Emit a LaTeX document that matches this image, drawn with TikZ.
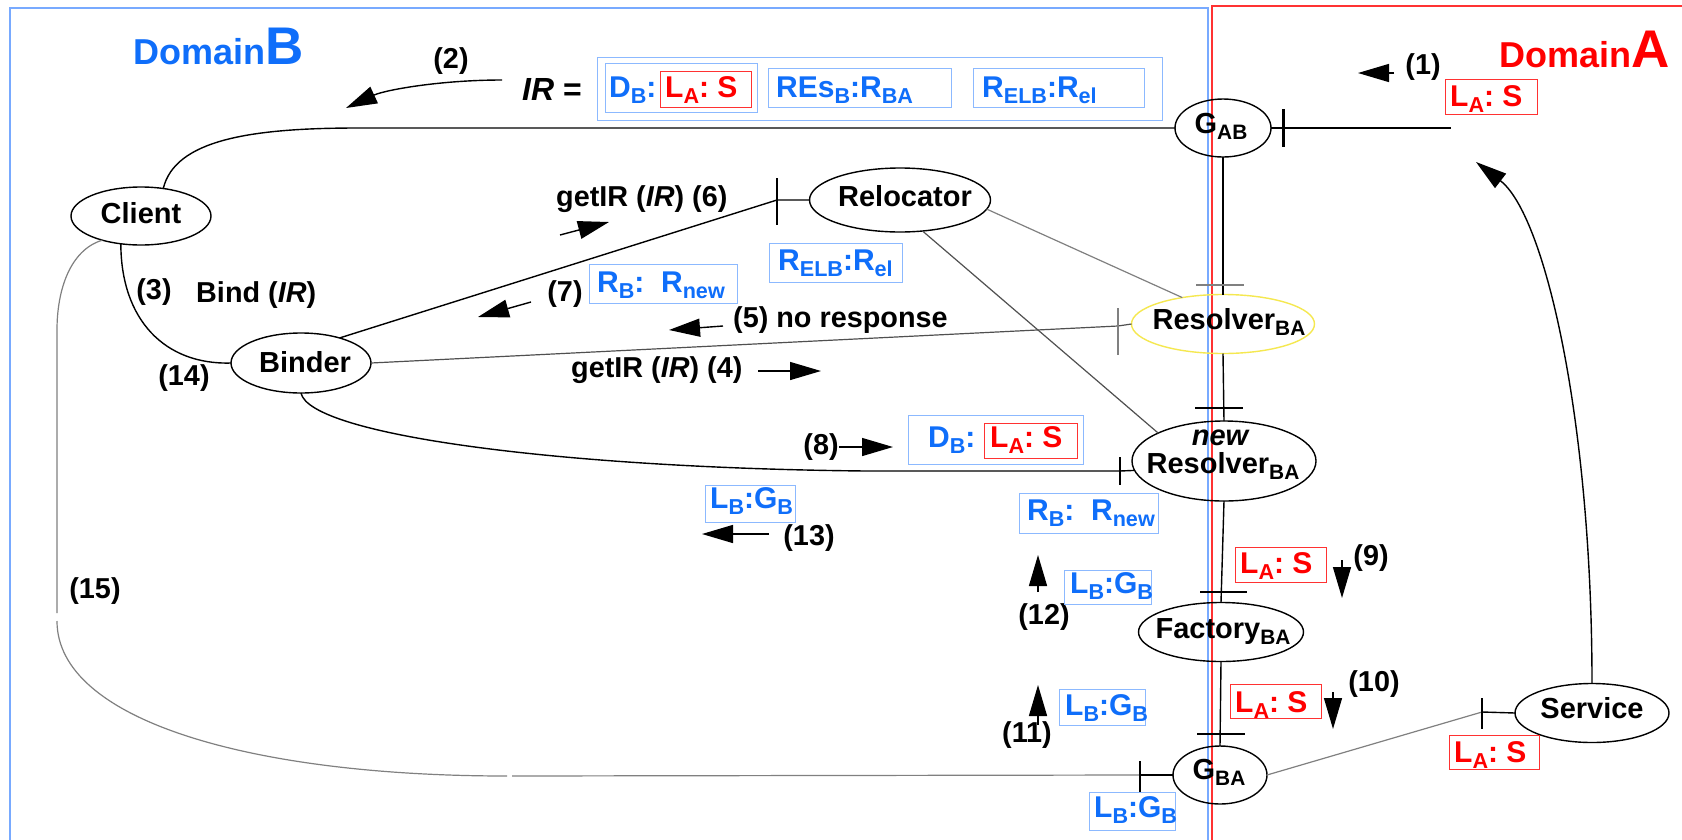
\documentclass[tikz,border=0pt]{standalone}
\usepackage{graphicx}
\usepackage{fontspec}
\setmainfont{Liberation Sans}
\usetikzlibrary{shapes.geometric,arrows.meta}

\definecolor{txtblue}{RGB}{15,110,250}
\definecolor{boxblue}{RGB}{140,185,255}
\definecolor{frameblue}{RGB}{120,170,255}
\definecolor{txtred}{RGB}{255,0,0}
\definecolor{boxred}{RGB}{255,50,50}
\definecolor{linegray}{RGB}{128,128,128}
\definecolor{darkline}{RGB}{80,80,80}
\definecolor{resyellow}{RGB}{245,232,80}

% lowered, shrunken index text
\newcommand\sbs[1]{\raisebox{-0.22em}{\scalebox{0.72}{#1}}}
\newcommand\nodefont{\fontsize{29}{34}\selectfont\bfseries}
\newcommand\boxfont{\fontsize{30}{34}\selectfont\bfseries}
\newcommand\lblfont{\fontsize{28.8}{32}\selectfont\bfseries}

\tikzset{
  nd/.style={ellipse, draw, line width=1.4pt, inner sep=0pt, outer sep=0pt},
  ntxt/.style={anchor=base, inner sep=0pt, font=\nodefont},
  lbl/.style={inner sep=0pt, font=\lblfont},
  bbox/.style={draw=boxblue, line width=1.4pt, inner sep=0pt, anchor=north west},
  rbox/.style={draw=boxred, line width=1.4pt, inner sep=0pt, anchor=north west},
  btxt/.style={anchor=base west, inner sep=0pt, font=\boxfont, text=txtblue},
  rtxt/.style={anchor=base west, inner sep=0pt, font=\boxfont, text=txtred},
  flow/.style={-{Triangle[length=31pt,width=18pt]}, line width=1.4pt},
  conn/.style={line width=1.4pt},
  gconn/.style={line width=1.2pt, draw=linegray},
  dconn/.style={line width=1.2pt, draw=darkline},
  tickmark/.style={line width=1.4pt},
  gtickmark/.style={line width=1.4pt, draw=linegray},
}

\begin{document}
\begin{tikzpicture}[x=1pt,y=-1pt]
\useasboundingbox (0,0) rectangle (1682,839);
\clip (0,0) rectangle (1682,839);
\fill[white] (0,0) rectangle (1682,839);

% the two domains
\draw[frameblue, line width=1.4pt] (10,8) rectangle (1208,900);
\draw[boxred, line width=1.4pt] (1212,6) rectangle (1700,900);
\node[anchor=base west, inner sep=0pt, text=txtblue, font=\bfseries] (domB) at (133,64)
  {\fontsize{36}{40}\selectfont Domain\fontsize{53}{56}\selectfont B};
\node[anchor=base west, inner sep=0pt, text=txtred, font=\bfseries] (domA) at (1499,67)
  {\fontsize{36}{40}\selectfont Domain\fontsize{53}{56}\selectfont A};

% objects
\node[nd, minimum width=140pt, minimum height=58pt] (Client) at (141,216) {};
\node[ntxt] (ClientT) at (141,223) {Client};
\node[nd, minimum width=140pt, minimum height=60pt] (Binder) at (301,363) {};
\node[ntxt] (BinderT) at (305,372) {Binder};
\node[nd, minimum width=181pt, minimum height=64pt] (Relocator) at (900,200) {};
\node[ntxt] (RelocatorT) at (905,206) {Relocator};
\node[nd, minimum width=96pt, minimum height=58pt] (GAB) at (1223,128) {};
\node[ntxt] (GABT) at (1221,133) {G\sbs{AB}};
\node[nd, draw=resyellow, minimum width=183pt, minimum height=59pt] (ResBA) at (1223,324) {};
\node[ntxt] (ResBAT) at (1229,329) {Resolver\sbs{BA}};
\node[nd, minimum width=184pt, minimum height=80pt] (newRes) at (1224,461) {};
\node[ntxt] (newResT1) at (1220,445) {\itshape new};
\node[ntxt] (newResT2) at (1223,473) {Resolver\sbs{BA}};
\node[nd, minimum width=165pt, minimum height=59pt] (Factory) at (1221,632) {};
\node[ntxt] (FactoryT) at (1223,638) {Factory\sbs{BA}};
\node[nd, minimum width=94pt, minimum height=58pt] (GBA) at (1220,775) {};
\node[ntxt] (GBAT) at (1219,779) {G\sbs{BA}};
\node[nd, minimum width=154pt, minimum height=59pt] (Service) at (1592,713) {};
\node[ntxt] (ServiceT) at (1592,718) {Service};

% free ends and tick positions
\coordinate (irEnd) at (358,128);
\coordinate (t1) at (1283,128);
\coordinate (c1) at (1451,128);
\coordinate (t6) at (777,200);
\coordinate (t5) at (1118,326);
\coordinate (c8) at (866,471);
\coordinate (t8) at (1120,471);
\coordinate (c15a) at (57,330);
\coordinate (c15b) at (57,613);
\coordinate (c15c) at (57,621);
\coordinate (c15d) at (507,776);
\coordinate (c15e) at (512,776);
\coordinate (t15) at (1140,775);
\coordinate (tS) at (1482,712);
\coordinate (cA) at (1476,162);

% connectors
\draw[conn] (Client.51) .. controls (175,140) and (250,128) .. (irEnd) -- (GAB.west);
\draw[conn] (GAB.east) -- (t1) -- (c1);
\draw[conn] (Client.234) .. controls (121,320) and (165,365) .. (Binder.west);
\draw[gconn] (Client.212) .. controls (70,250) and (57,290) .. (c15a) -- (c15b);
\draw[gconn] (c15c) .. controls (57,720) and (250,776) .. (c15d);
\draw[gconn] (c15e) -- (t15);
\draw[conn] (t15) -- (GBA.west);
\draw[conn] (Binder.33) -- (t6) -- (Relocator.west);
\draw[dconn] (Binder.east) -- (t5) -- (ResBA.west);
\draw[conn] (Binder.south) .. controls (310,435) and (560,468) .. (c8) -- (t8) -- (newRes.186);
\draw[gconn] (Relocator.354) -- (ResBA.147);
\draw[dconn] (Relocator.306) -- (newRes.157);
\draw[conn] (GAB.south) -- (ResBA.north);
\draw[conn] (ResBA.south) -- (newRes.north);
\draw[conn] (newRes.south) -- (Factory.north);
\draw[conn] (Factory.south) -- (GBA.north);
\draw[gconn] (GBA.east) -- (tS);
\draw[conn] (tS) -- (Service.west);
\draw[flow] (Service.north) .. controls (1592,420) and (1545,215) .. (cA);

% bars across the connectors
\draw[line width=3pt] (1283,109) -- (1283,147);
\draw[tickmark] (777,178) -- (777,225);
\draw[gtickmark] (1118,308) -- (1118,355);
\draw[tickmark] (1120,457) -- (1120,485);
\draw[tickmark] (1140,761) -- (1140,792);
\draw[tickmark] (1482,698) -- (1482,729);
\draw[gtickmark] (1196,285) -- (1244,285);
\draw[tickmark] (1195,408) -- (1243,408);
\draw[tickmark] (1200,592) -- (1247,592);
\draw[tickmark] (1197,734) -- (1245,734);

% message arrows
\draw[flow] (502,80) .. controls (440,80) and (385,90) .. (346,108);
\draw[flow] (1394,73) -- (1358,73);
\draw[flow] (560,235) -- (609,222);
\draw[flow] (531,302) -- (478,317);
\draw[flow] (723,326) -- (669,330);
\draw[flow] (758,371) -- (821,371);
\draw[flow] (839,447) -- (893,447);
\draw[flow] (769,534) -- (702,534);
\draw[flow] (1038,592) -- (1038,555);
\draw[flow] (1038,725) -- (1038,685);
\draw[flow] (1342,560) -- (1342,598);
\draw[flow] (1333,692) -- (1333,729);

% step labels
\node[lbl] (l2) at (451,61) {(2)};
\node[lbl] (l1) at (1423,67) {(1)};
\node[lbl, anchor=base west] (l6) at (556,206) {getIR (\textit{IR}) (6)};
\node[lbl] (l3) at (154,292) {(3)};
\node[lbl, anchor=base west] (lbind) at (196,302) {Bind (\textit{IR})};
\node[lbl] (l7) at (565,294) {(7)};
\node[lbl, anchor=base west] (l5) at (733,327) {(5) no response};
\node[lbl, anchor=base west] (l4) at (571,377) {getIR (\textit{IR}) (4)};
\node[lbl] (l14) at (184,378) {(14)};
\node[lbl] (l8) at (821,447) {(8)};
\node[lbl] (l13) at (809,538) {(13)};
\node[lbl] (l12) at (1044,617) {(12)};
\node[lbl] (l11) at (1027,735) {(11)};
\node[lbl] (l9) at (1371,558) {(9)};
\node[lbl] (l10) at (1374,684) {(10)};
\node[lbl] (l15) at (95,591) {(15)};

% the IR reference and its parts
\node[anchor=base west, inner sep=0pt, font=\fontsize{32}{36}\selectfont\bfseries] (irlbl) at (522,100) {\textit{IR} =};
\node[bbox, minimum width=565pt, minimum height=63pt] (irbox) at (597,57) {};
\node[bbox, minimum width=152pt, minimum height=49pt] (ir1) at (605,63) {};
\node[rbox, minimum width=91pt, minimum height=36pt] (ir1r) at (660,71) {};
\node[btxt] (ir1t) at (609,97) {D\sbs{B}:};
\node[rtxt] (ir1rt) at (665,97) {L\sbs{A}:\ S};
\node[bbox, minimum width=183pt, minimum height=39pt] (ir2) at (768,68) {};
\node[btxt] (ir2t) at (776,97) {REs\sbs{B}:R\sbs{BA}};
\node[bbox, minimum width=171pt, minimum height=39pt] (ir3) at (973,68) {};
\node[btxt] (ir3t) at (982,97) {R\sbs{ELB}:R\sbs{el}};

% references passed along the way
\node[bbox, minimum width=133pt, minimum height=39pt] (relbox) at (769,243) {};
\node[btxt] (relboxt) at (778,270) {R\sbs{ELB}:R\sbs{el}};
\node[bbox, minimum width=148pt, minimum height=39pt] (rnew1) at (589,264) {};
\node[btxt] (rnew1t) at (597,292) {R\sbs{B}:\ \ R\sbs{new}};
\node[bbox, minimum width=175pt, minimum height=49pt] (db8) at (908,415) {};
\node[rbox, minimum width=93pt, minimum height=35pt] (db8r) at (984,423) {};
\node[btxt] (db8t) at (928,447) {D\sbs{B}:};
\node[rtxt] (db8rt) at (990,447) {L\sbs{A}:\ S};
\node[bbox, minimum width=90pt, minimum height=37pt] (lg13) at (705,485) {};
\node[btxt] (lg13t) at (710,508) {L\sbs{B}:G\sbs{B}};
\node[bbox, minimum width=139pt, minimum height=40pt] (rnew2) at (1019,493) {};
\node[btxt] (rnew2t) at (1027,520) {R\sbs{B}:\ \ R\sbs{new}};
\node[bbox, minimum width=87pt, minimum height=34pt] (lg12) at (1064,570) {};
\node[btxt] (lg12t) at (1070,593) {L\sbs{B}:G\sbs{B}};
\node[bbox, minimum width=86pt, minimum height=36pt] (lg11) at (1059,689) {};
\node[btxt] (lg11t) at (1065,715) {L\sbs{B}:G\sbs{B}};
\node[bbox, minimum width=86pt, minimum height=38pt] (lgbot) at (1089,792) {};
\node[btxt] (lgbott) at (1094,817) {L\sbs{B}:G\sbs{B}};

\node[rbox, minimum width=92pt, minimum height=35pt] (r1) at (1445,79) {};
\node[rtxt] (r1t) at (1450,106) {L\sbs{A}:\ S};
\node[rbox, minimum width=91pt, minimum height=35pt] (r9) at (1235,547) {};
\node[rtxt] (r9t) at (1240,573) {L\sbs{A}:\ S};
\node[rbox, minimum width=91pt, minimum height=34pt] (r10) at (1230,684) {};
\node[rtxt] (r10t) at (1235,712) {L\sbs{A}:\ S};
\node[rbox, minimum width=90pt, minimum height=34pt] (rS) at (1449,735) {};
\node[rtxt] (rSt) at (1454,762) {L\sbs{A}:\ S};
\end{tikzpicture}
\end{document}
